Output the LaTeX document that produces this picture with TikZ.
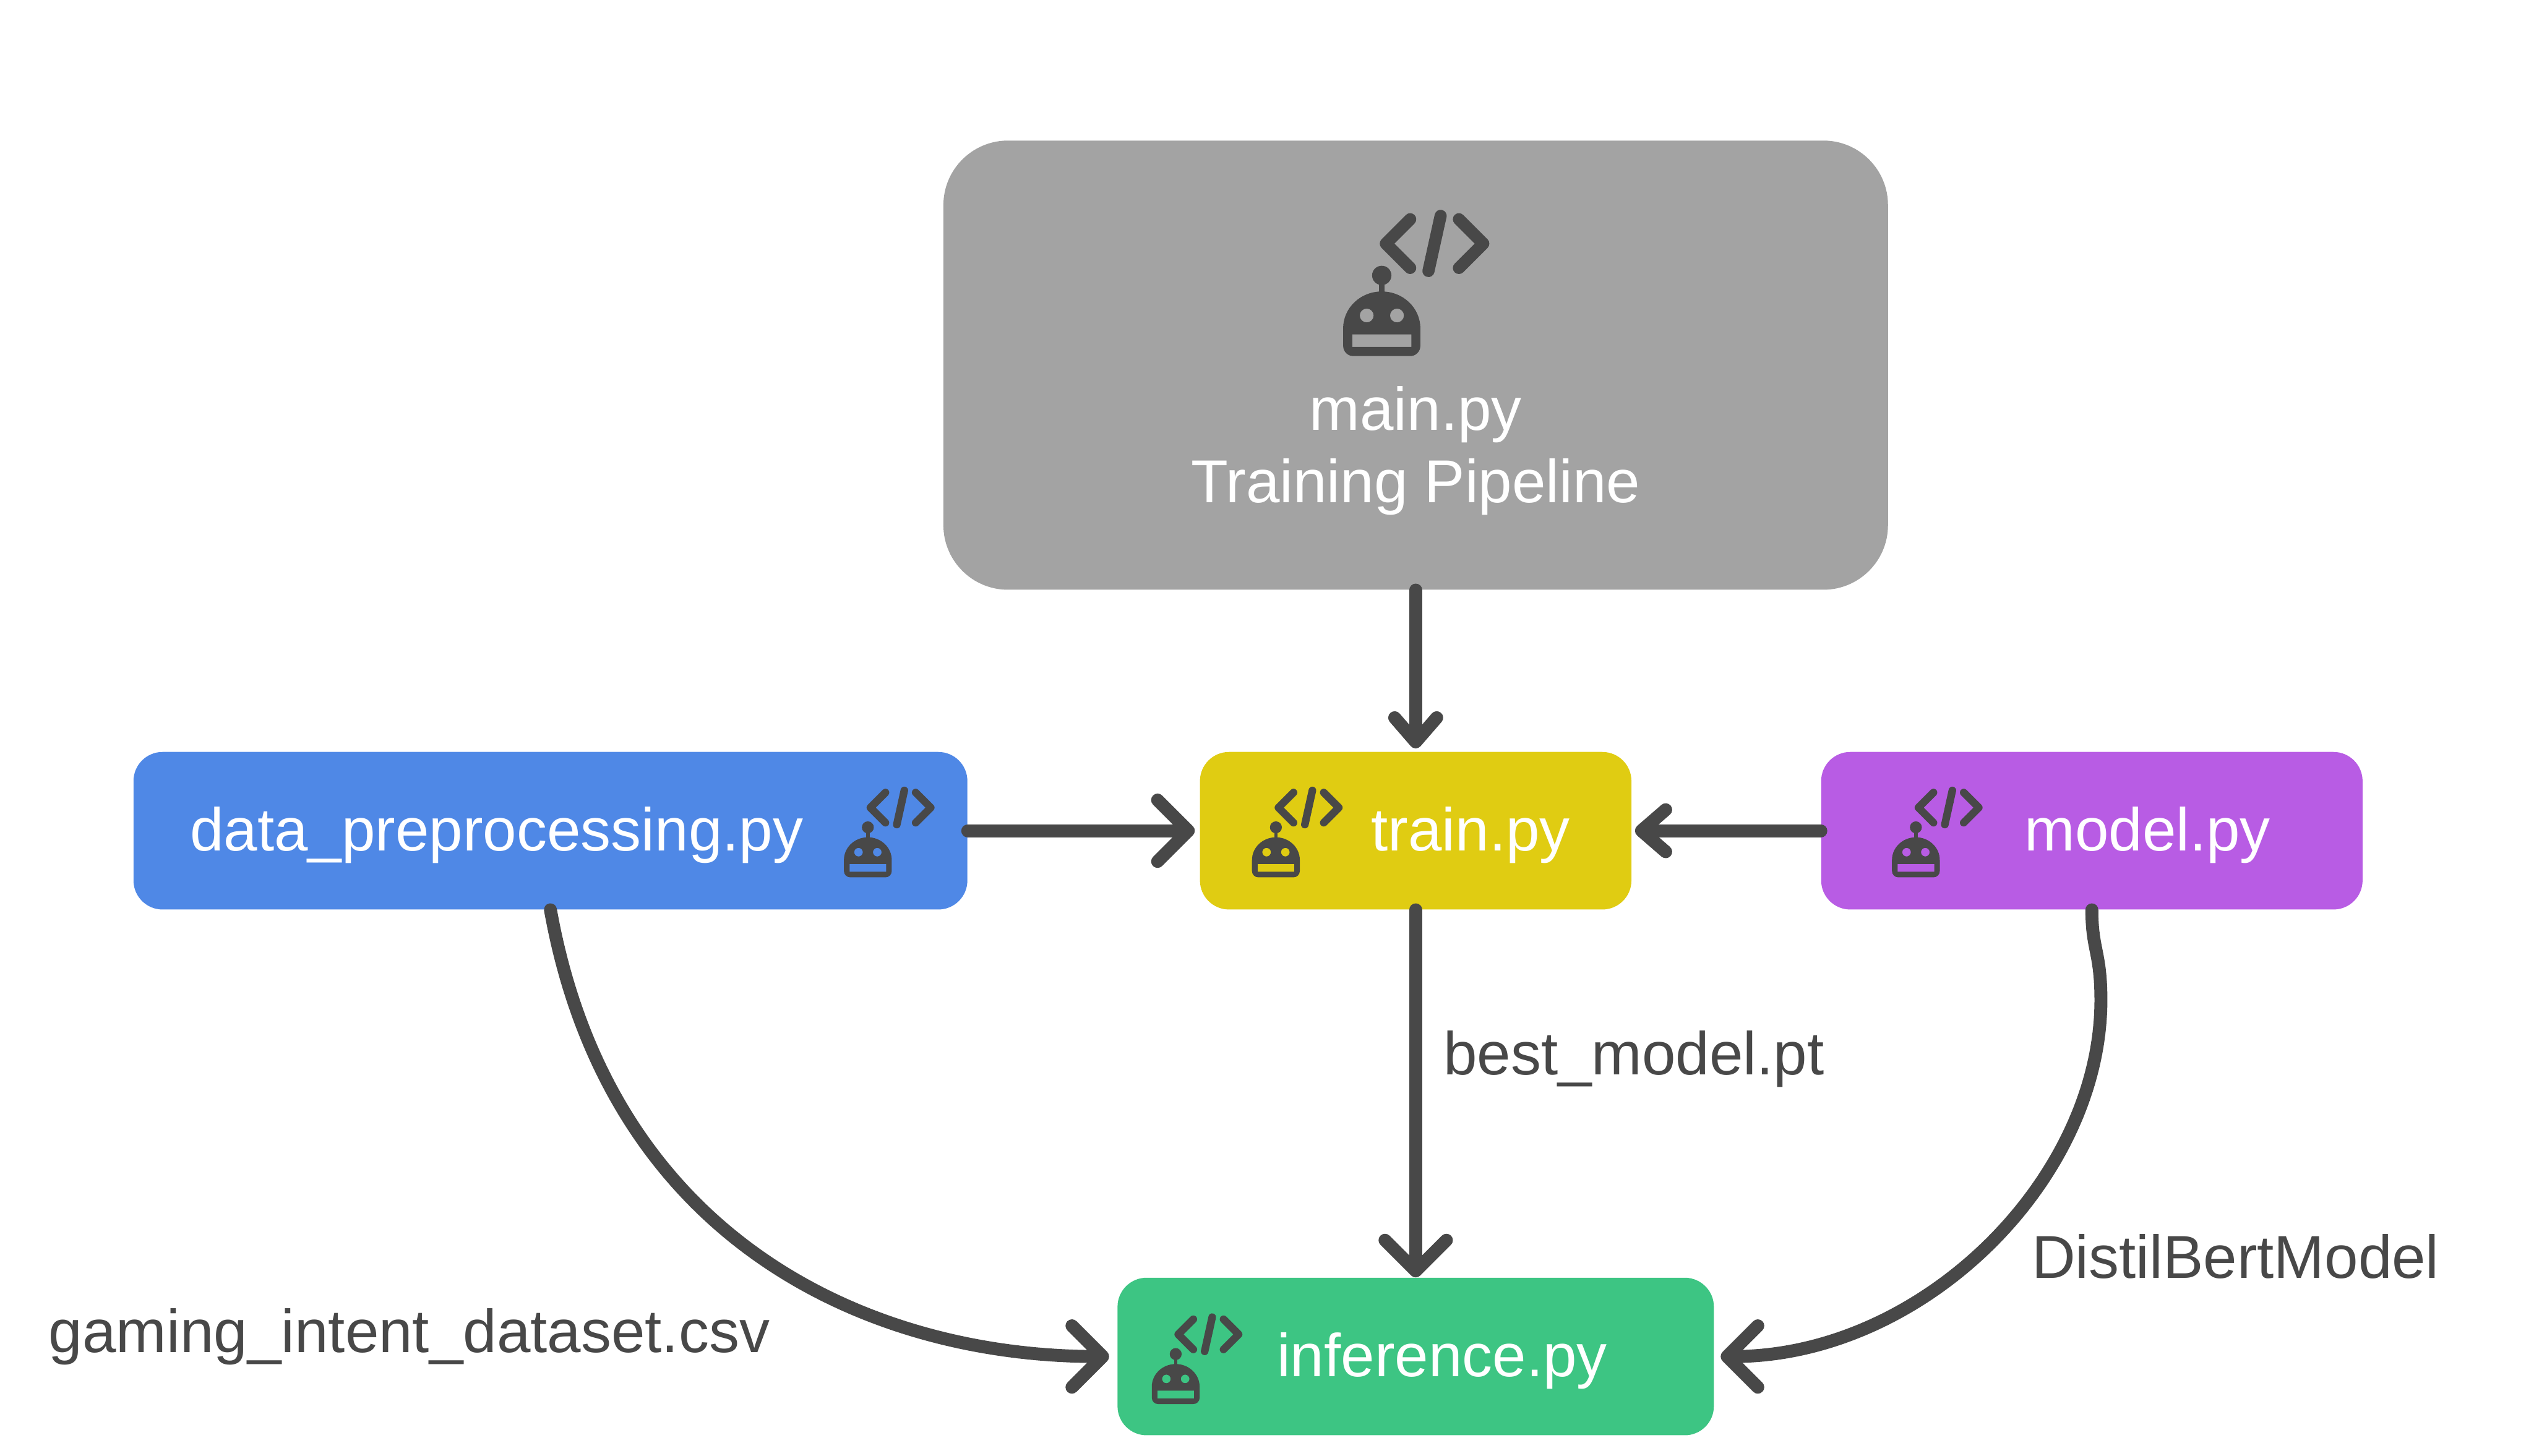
\documentclass[tikz,border=0pt]{standalone}
\usepackage{fontspec}
\setmainfont{Liberation Sans}
\usetikzlibrary{arrows.meta, positioning}

\definecolor{inkgray}{HTML}{484848}
\definecolor{maingray}{HTML}{A3A3A3}
\definecolor{datablue}{HTML}{4F88E6}
\definecolor{trainyellow}{HTML}{E0CC12}
\definecolor{modelpurple}{HTML}{B85CE4}
\definecolor{infergreen}{HTML}{3DC583}

\begin{document}
\begin{tikzpicture}[
            x=1pt,
            y=-1pt, % coordinates run downwards
            font=\fontsize{37.5}{45}\selectfont,
            scriptbox/.style={
                rectangle,
                rounded corners=18pt,
                minimum width=267pt,
                minimum height=97.5pt,
                inner ysep=0pt,
                text=white,
                text height=30pt,
                text depth=5pt
            },
            note/.style={
                anchor=base west,
                inner sep=0pt,
                text=inkgray
            },
            flow/.style={
                draw=inkgray,
                line width=8pt,
                line cap=round
            },
            smallhead/.style={
                -{Straight Barb[length=15pt, width=26pt, round]}
            },
            bighead/.style={
                -{Straight Barb[length=19pt, width=38pt, round]}
            },
            pics/boticon/.style={
                code={
                    \fill[inkgray, even odd rule]
                        (-228,-165) .. controls (-228,-285) and (-126,-382) .. (0,-382)
                        .. controls (126,-382) and (228,-285) .. (228,-165)
                        -- (228,-60) .. controls (228,-27) and (201,0) .. (168,0)
                        -- (-168,0) .. controls (-201,0) and (-228,-27) .. (-228,-60) -- cycle
                        (-89,-240) circle[radius=41]
                        (90,-240) circle[radius=41]
                        (-174,-128) rectangle (175,-54);
                    \fill[inkgray] (-17,-430) rectangle (18,-375);
                    \fill[inkgray] (0,-477) circle[radius=57];
                    \draw[inkgray, line width=#1, line cap=round, line join=round]
                        (168,-809) -- (24,-665) -- (168,-521)
                        (456,-809) -- (600,-665) -- (456,-521)
                        (348,-829) -- (276,-503);
                }
            }
        ]
        \useasboundingbox (0,0) rectangle (1568,901);

        % boxes
        \node[scriptbox, fill=maingray, rounded corners=40pt, minimum width=584.5pt, minimum height=278pt,
              text height=, text depth=, align=center] (main) at (876,226)
              {\rule{0pt}{133pt}main.py\\Training Pipeline};
        \node[scriptbox, fill=trainyellow, inner xsep=38pt, text width=191pt, align=right] (train) [below=100pt of main] {train.py};
        \node[scriptbox, fill=datablue, inner xsep=35pt, text width=446pt, align=left] (data) [left=143.5pt of train] {data\_preprocessing.py};
        \node[scriptbox, fill=modelpurple, inner xsep=57pt, text width=221pt, align=right] (model) [right=117pt of train] {model.py};
        \node[scriptbox, fill=infergreen, inner xsep=66pt, text width=237pt, align=right] (inference) [below=227.5pt of train] {inference.py};

        % icons
        \pic[scale=0.1047] at (855,220.4) {boticon=7.5pt};
        \pic[scale=0.0649] at (537,543) {boticon=4.7pt};
        \pic[scale=0.0649] at (789.5,543) {boticon=4.7pt};
        \pic[scale=0.0649] at (1185.5,543) {boticon=4.7pt};
        \pic[scale=0.0649] at (727.5,869) {boticon=4.7pt};

        % labels
        \node[note] (bestlabel) at (893,665) {best\_model.pt};
        \node[note] (bertlabel) at (1257,791) {DistilBertModel};
        \node[note] (csvlabel) at (30,837) {gaming\_intent\_dataset.csv};

        \coordinate (modelbend) at (1300,619);

        % connectors
        \draw[flow, smallhead, shorten >=2pt] (main) -- (train);
        \draw[flow, bighead, shorten >=3pt] (data) -- (train);
        \draw[flow, smallhead, shorten >=2pt] (model) -- (train);
        \draw[flow, bighead] (train) -- (inference);
        \draw[flow, bighead, shorten >=5pt] (data.south)
            .. controls +(37,206) and +(-152,0) .. (inference.west);
        \draw[flow, bighead, shorten >=4pt] (model.south)
            .. controls +(0,25) and +(0,-30) .. (modelbend)
            .. controls +(0,111) and +(129,0) .. (inference.east);
    \end{tikzpicture}
\end{document}
